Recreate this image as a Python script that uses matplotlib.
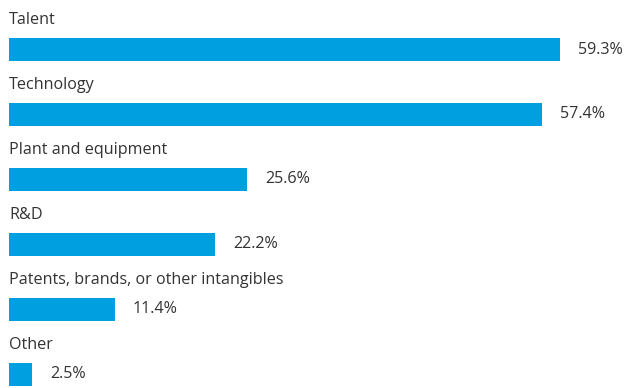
import matplotlib.pyplot as plt

categories = ["Talent", "Technology", "Plant and equipment", "R&D",
              "Patents, brands, or other intangibles", "Other"]
values = [59.3, 57.4, 25.6, 22.2, 11.4, 2.5]

bar_color = "#009fdf"
text_color = "#333333"
plt.rcParams["font.family"] = ["Open Sans", "DejaVu Sans"]

fig = plt.figure(figsize=(6.29, 3.88), dpi=100)
ax = fig.add_axes([0, 0, 1, 1])

px_per_pct = 9.29
row_px = 64.9
first_px = 49.5

ys = list(range(len(categories)))
ax.barh(ys, values, height=23 / row_px, color=bar_color, left=0)

for y, cat, val in zip(ys, categories, values):
    ax.text(0, y - 29 / row_px, cat, ha="left", va="center",
            fontsize=11.6, color=text_color)
    ax.text(val + 18 / px_per_pct, y, f"{val}%", ha="left", va="center",
            fontsize=11.6, color=text_color)

ax.set_xlim(-9 / px_per_pct, (629 - 9) / px_per_pct)
ax.set_ylim((388 - first_px) / row_px, -first_px / row_px)
ax.axis("off")

fig.savefig("out.png", dpi=100)
